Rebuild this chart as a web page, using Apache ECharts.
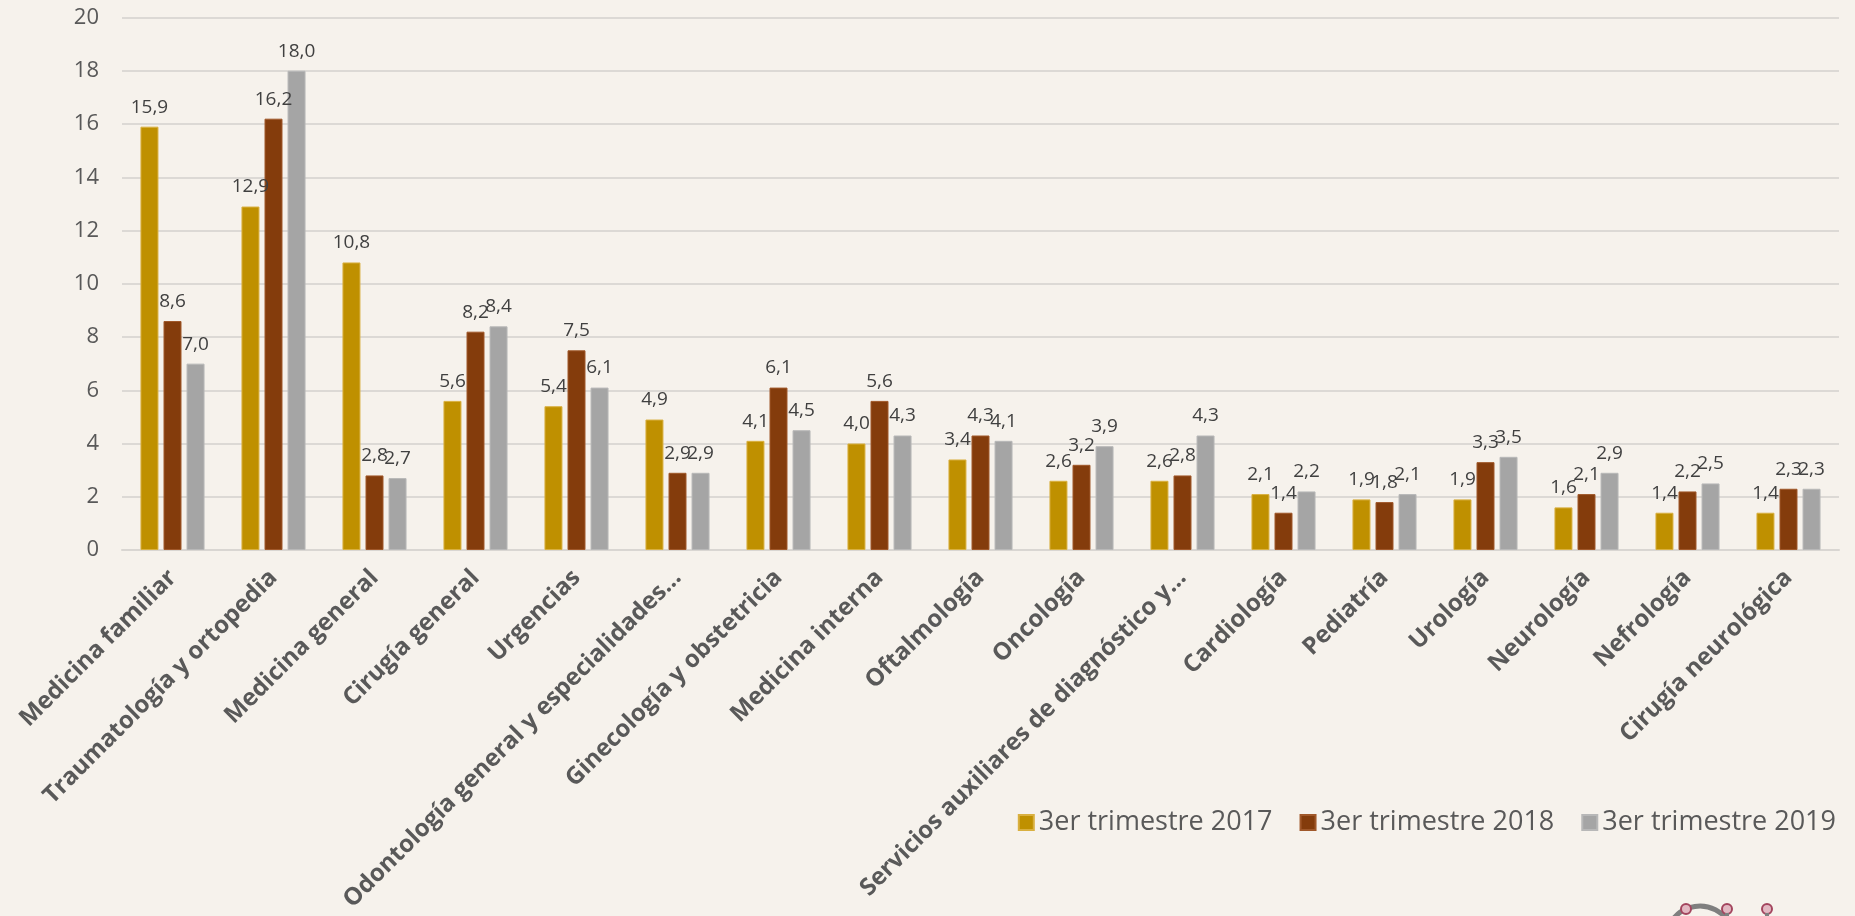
<!DOCTYPE html>
<html>
<head>
<meta charset="utf-8">
<script src="https://cdn.jsdelivr.net/npm/echarts@6/dist/echarts.min.js"></script>
<style>
html,body{margin:0;padding:0;background:#F6F2EC;}
#chart{width:1855px;height:916px;}
</style>
</head>
<body>
<div id="chart"></div>
<script>
const categories = [
  'Medicina familiar',
  'Traumatología y ortopedia',
  'Medicina general',
  'Cirugía general',
  'Urgencias',
  'Odontología general y especialidades…',
  'Ginecología y obstetricia',
  'Medicina interna',
  'Oftalmología',
  'Oncología',
  'Servicios auxiliares de diagnóstico y…',
  'Cardiología',
  'Pediatría',
  'Urología',
  'Neurología',
  'Nefrología',
  'Cirugía neurológica'
];
const seriesNames = ['3er trimestre 2017', '3er trimestre 2018', '3er trimestre 2019'];
const values2017 = [15.9, 12.9, 10.8, 5.6, 5.4, 4.9, 4.1, 4.0, 3.4, 2.6, 2.6, 2.1, 1.9, 1.9, 1.6, 1.4, 1.4];
const values2018 = [8.6, 16.2, 2.8, 8.2, 7.5, 2.9, 6.1, 5.6, 4.3, 3.2, 2.8, 1.4, 1.8, 3.3, 2.1, 2.2, 2.3];
const values2019 = [7.0, 18.0, 2.7, 8.4, 6.1, 2.9, 4.5, 4.3, 4.1, 3.9, 4.3, 2.2, 2.1, 3.5, 2.9, 2.5, 2.3];
const yTicks = [0, 2, 4, 6, 8, 10, 12, 14, 16, 18, 20];

const colors = ['#BF9000', '#843C0C', '#A5A5A5'];
const borders = ['#D9B040', '#A0582A', '#B8B8B8'];
const allValues = [values2017, values2018, values2019];

const chart = echarts.init(document.getElementById('chart'), null, {renderer: 'canvas'});

const fmt = p => p.value.toFixed(1).replace('.', ',');

const series = allValues.map((vals, i) => ({
  name: seriesNames[i],
  type: 'bar',
  data: vals,
  barWidth: 18,
  barGap: '28%',
  itemStyle: {color: colors[i], borderColor: borders[i], borderWidth: 1},
  label: {
    show: true,
    position: 'top',
    distance: 10,
    formatter: fmt,
    fontFamily: 'Open Sans',
    fontSize: 19,
    color: '#404040'
  },
  labelLayout: {moveOverlap: 'shiftX'},
  emphasis: {disabled: true}
}));

chart.setOption({
  backgroundColor: '#F6F2EC',
  animation: false,
  textStyle: {fontFamily: 'Open Sans'},
  grid: {left: 122, right: 16, top: 17.5, bottom: 366, containLabel: false},
  legend: {
    data: seriesNames,
    right: 14,
    top: 804,
    itemWidth: 15,
    itemHeight: 15,
    itemGap: 27,
    icon: 'rect',
    textStyle: {fontFamily: 'Open Sans', fontSize: 27, color: '#595959'}
  },
  xAxis: {
    type: 'category',
    data: categories,
    axisLine: {show: true, lineStyle: {color: '#D9D6D2', width: 2}},
    axisTick: {show: false},
    axisLabel: {
      interval: 0,
      rotate: 45,
      margin: 24,
      fontFamily: 'Open Sans',
      fontWeight: 'bold',
      fontSize: 24,
      color: '#595959'
    }
  },
  yAxis: {
    type: 'value',
    min: yTicks[0],
    max: yTicks[yTicks.length - 1],
    interval: 2,
    axisLine: {show: false},
    axisTick: {show: false},
    splitLine: {lineStyle: {color: '#DCD9D5', width: 2}},
    axisLabel: {
      margin: 23,
      fontFamily: 'Open Sans',
      fontSize: 22,
      color: '#595959'
    }
  },
  graphic: [
    {type: 'arc', shape: {cx: 1700, cy: 940, r: 34, startAngle: Math.PI * 1.15, endAngle: Math.PI * 1.85}, style: {stroke: '#7F7F7F', lineWidth: 5, fill: null}},
    {type: 'circle', shape: {cx: 1686, cy: 909, r: 5}, style: {fill: '#E2B8C2', stroke: '#A3455E', lineWidth: 2}},
    {type: 'circle', shape: {cx: 1727, cy: 909, r: 5}, style: {fill: '#E2B8C2', stroke: '#A3455E', lineWidth: 2}},
    {type: 'circle', shape: {cx: 1767, cy: 909, r: 5}, style: {fill: '#E2B8C2', stroke: '#A3455E', lineWidth: 2}},
    {type: 'rect', shape: {x: 1725, y: 913, width: 4, height: 4}, style: {fill: '#7F7F7F'}},
    {type: 'rect', shape: {x: 1765, y: 913, width: 4, height: 4}, style: {fill: '#7F7F7F'}}
  ],
  series: series
});
</script>
</body>
</html>
